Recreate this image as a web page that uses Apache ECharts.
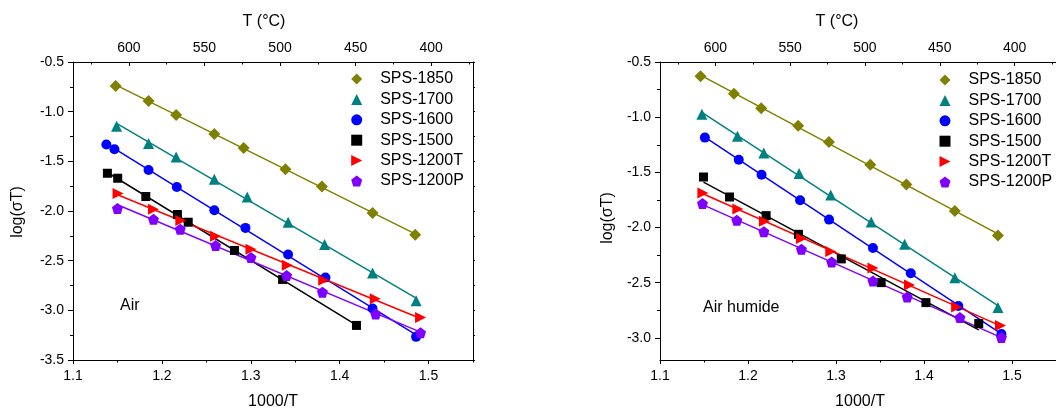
<!DOCTYPE html>
<html><head><meta charset="utf-8">
<script src="https://cdn.jsdelivr.net/npm/echarts@6/dist/echarts.min.js"></script>
<style>html,body{margin:0;padding:0;background:#fff}#c{width:1056px;height:412px}</style>
</head><body><div id="c"></div>
<script>
// ---- data (x = 1000/T, y = log(sigma T)) ----
const seriesNames = ['SPS-1850','SPS-1700','SPS-1600','SPS-1500','SPS-1200T','SPS-1200P'];
const xTickLabels = [1.1,1.2,1.3,1.4,1.5];
const xMinorTicks = [1.15,1.25,1.35,1.45,1.55];
const tTickLabels = [400,450,500,550,600];
const tMinorTicks = [375,425,475,525,575,625];
const yTickLabelsAir = [-3.5,-3.0,-2.5,-2.0,-1.5,-1.0,-0.5];
const yMinorTicksAir = [-3.25,-2.75,-2.25,-1.75,-1.25,-0.75];
const yTickLabelsHum = [-3.0,-2.5,-2.0,-1.5,-1.0,-0.5];
const yMinorTicksHum = [-2.75,-2.25,-1.75,-1.25,-0.75];
const panelNotes = ['Air','Air humide'];

const air1850 = [[1.148,-0.741],[1.185,-0.892],[1.216,-1.033],[1.259,-1.224],[1.292,-1.365],[1.339,-1.579],[1.380,-1.754],[1.437,-2.019],[1.485,-2.240]];
const air1700 = [[1.149,-1.147],[1.185,-1.321],[1.216,-1.456],[1.259,-1.680],[1.296,-1.858],[1.342,-2.113],[1.383,-2.337],[1.437,-2.623],[1.486,-2.904]];
const air1600 = [[1.1375,-1.331],[1.1466,-1.378],[1.185,-1.587],[1.2168,-1.758],[1.259,-1.992],[1.294,-2.170],[1.342,-2.438],[1.384,-2.669],[1.437,-2.981],[1.486,-3.267]];
const air1500 = [[1.1387,-1.620],[1.1503,-1.670],[1.1819,-1.854],[1.2175,-2.035],[1.2296,-2.113],[1.2817,-2.397],[1.3358,-2.689],[1.4189,-3.152]];
const air1200T = [[1.1507,-1.824],[1.1905,-1.982],[1.2213,-2.096],[1.2604,-2.254],[1.3002,-2.385],[1.3411,-2.546],[1.382,-2.697],[1.440,-2.884],[1.491,-3.072]];
const air1200P = [[1.150,-1.975],[1.1905,-2.083],[1.2206,-2.183],[1.2604,-2.347],[1.3002,-2.468],[1.3403,-2.649],[1.3806,-2.817],[1.4405,-3.038],[1.491,-3.226]];

const hum1850 = [[1.146,-0.630],[1.184,-0.787],[1.215,-0.920],[1.257,-1.077],[1.292,-1.225],[1.339,-1.430],[1.380,-1.611],[1.435,-1.850],[1.484,-2.073]];
const hum1700 = [[1.1476,-0.974],[1.188,-1.173],[1.218,-1.324],[1.258,-1.511],[1.294,-1.705],[1.340,-1.949],[1.378,-2.152],[1.435,-2.454],[1.484,-2.725]];
const hum1600 = [[1.151,-1.185],[1.1895,-1.385],[1.2154,-1.521],[1.2592,-1.753],[1.2921,-1.928],[1.342,-2.185],[1.385,-2.414],[1.439,-2.710],[1.488,-2.964]];
const hum1500 = [[1.1494,-1.542],[1.179,-1.723],[1.2206,-1.892],[1.2573,-2.061],[1.306,-2.284],[1.3513,-2.499],[1.4022,-2.680],[1.4622,-2.870]];
const hum1200T = [[1.1487,-1.687],[1.1884,-1.832],[1.2187,-1.943],[1.2607,-2.100],[1.294,-2.218],[1.342,-2.366],[1.3835,-2.520],[1.4371,-2.719],[1.4869,-2.888]];
const hum1200P = [[1.1483,-1.783],[1.1873,-1.934],[1.218,-2.037],[1.2607,-2.197],[1.2951,-2.312],[1.342,-2.484],[1.3809,-2.629],[1.4408,-2.816],[1.488,-2.997]];

// ---- styling ----
const FONT = "'Liberation Sans', Arial, sans-serif";
const colors = ['#808000','#008080','#0000FF','#000000','#FF0000','#8000FF'];
const symbols = ['diamond','triangle','circle','rect','path://M0,0L10,5L0,10Z','path://M5,0L10,3.8L8.1,10L1.9,10L0,3.8Z'];
const symbolSizes = [12,11,10,9,11,11];
const panels = [
  {data:[air1850,air1700,air1600,air1500,air1200T,air1200P], left:73, yMin:-3.5, yMax:-0.5, yMaj:yTickLabelsAir, yMin2:yMinorTicksAir},
  {data:[hum1850,hum1700,hum1600,hum1500,hum1200T,hum1200P], left:660, yMin:-3.2, yMax:-0.5, yMaj:yTickLabelsHum, yMin2:yMinorTicksHum}
];
const X_MIN = 1.1, X_MAX = 1.55, T_AT_XMIN = 637, T_AT_XMAX = 372.3;

function fit(pts){
  const n=pts.length; let sx=0,sy=0,sxx=0,sxy=0;
  pts.forEach(p=>{sx+=p[0];sy+=p[1];sxx+=p[0]*p[0];sxy+=p[0]*p[1];});
  const b=(n*sxy-sx*sy)/(n*sxx-sx*sx), a=(sy-b*sx)/n;
  const xs=pts.map(p=>p[0]); const x0=Math.min(...xs), x1=Math.max(...xs);
  return [[x0,a+b*x0],[x1,a+b*x1]];
}

const line = {show:true, lineStyle:{color:'#000', width:1}};
const grid=[], xAxis=[], yAxis=[], series=[], legend=[];
panels.forEach((P,g)=>{
  grid.push({left:P.left, top:62, width:400, height:298});
  const xb = g*4, yb = g*3;
  xAxis.push({gridIndex:g, type:'value', position:'bottom', min:X_MIN, max:X_MAX, axisLine:line,
    axisTick:{show:true, inside:false, length:4, customValues:xTickLabels, lineStyle:{color:'#000'}},
    axisLabel:{show:true, customValues:xTickLabels, formatter:v=>v.toFixed(1), fontSize:14, fontFamily:FONT, color:'#000', margin:9},
    splitLine:{show:false}});
  xAxis.push({gridIndex:g, type:'value', position:'bottom', min:X_MIN, max:X_MAX, axisLine:{show:false},
    axisTick:{show:true, inside:false, length:2.5, customValues:xMinorTicks, lineStyle:{color:'#000'}},
    axisLabel:{show:false}, splitLine:{show:false}});
  xAxis.push({gridIndex:g, type:'value', position:'top', inverse:true, min:T_AT_XMAX, max:T_AT_XMIN, axisLine:line,
    axisTick:{show:true, inside:true, length:4, customValues:tTickLabels, lineStyle:{color:'#000'}},
    axisLabel:{show:true, customValues:tTickLabels, fontSize:14, fontFamily:FONT, color:'#000', margin:7},
    splitLine:{show:false}});
  xAxis.push({gridIndex:g, type:'value', position:'top', inverse:true, min:T_AT_XMAX, max:T_AT_XMIN, axisLine:{show:false},
    axisTick:{show:true, inside:true, length:2.5, customValues:tMinorTicks, lineStyle:{color:'#000'}},
    axisLabel:{show:false}, splitLine:{show:false}});
  yAxis.push({gridIndex:g, type:'value', position:'left', min:P.yMin, max:P.yMax, axisLine:line,
    axisTick:{show:true, inside:false, length:5, customValues:P.yMaj, lineStyle:{color:'#000'}},
    axisLabel:{show:true, customValues:P.yMaj, formatter:v=>v.toFixed(1), fontSize:14, fontFamily:FONT, color:'#000', margin:9},
    splitLine:{show:false}});
  yAxis.push({gridIndex:g, type:'value', position:'left', min:P.yMin, max:P.yMax, axisLine:{show:false},
    axisTick:{show:true, inside:false, length:3, customValues:P.yMin2, lineStyle:{color:'#000'}},
    axisLabel:{show:false}, splitLine:{show:false}});
  yAxis.push({gridIndex:g, type:'value', position:'right', min:P.yMin, max:P.yMax, axisLine:line,
    axisTick:{show:true, inside:false, length:2, customValues:P.yMaj.concat(P.yMin2), lineStyle:{color:'#000'}},
    axisLabel:{show:false}, splitLine:{show:false}});
  P.data.forEach((d,i)=>{
    series.push({type:'line', name:'fit '+seriesNames[i]+' '+g, xAxisIndex:xb, yAxisIndex:yb, data:fit(d),
      symbol:'none', silent:true, z:2, lineStyle:{color:colors[i], width:1.5}, itemStyle:{color:colors[i]}});
    series.push({type:'scatter', name:seriesNames[i], xAxisIndex:xb, yAxisIndex:yb, data:d,
      symbol:symbols[i], symbolSize:symbolSizes[i], z:3, itemStyle:{color:colors[i], opacity:1}});
  });
  legend.push({data:seriesNames, orient:'vertical', padding:0, left: g===0?351.2:939.5, top: g===0?71:72,
    itemWidth:11, itemHeight:11, itemGap:4.4,
    textStyle:{fontSize:16, fontFamily:FONT, color:'#000', lineHeight:16, padding:[0,0,0,13]}, selectedMode:false});
});

const txt = (x,y,t,extra)=>Object.assign({type:'text', x:x, y:y, style:{text:t, font:'16px '+FONT, fill:'#000', align:'center', verticalAlign:'middle'}}, extra||{});
const graphic = [
  txt(264,21.5,'T (°C)'), txt(837,21.5,'T (°C)'),
  txt(273,402,'1000/T'), txt(860,402,'1000/T'),
  txt(17.5,212,'log(σT)',{rotation:Math.PI/2}), txt(608,218,'log(σT)',{rotation:Math.PI/2}),
  {type:'text', x:120, y:306, style:{text:panelNotes[0], font:'16px '+FONT, fill:'#000', align:'left', verticalAlign:'middle'}},
  {type:'text', x:703, y:308, style:{text:panelNotes[1], font:'16px '+FONT, fill:'#000', align:'left', verticalAlign:'middle'}}
];

const chart = echarts.init(document.getElementById('c'), null, {renderer:'canvas'});
chart.setOption({animation:false, backgroundColor:'#fff', grid, xAxis, yAxis, series, legend, graphic});
</script></body></html>
